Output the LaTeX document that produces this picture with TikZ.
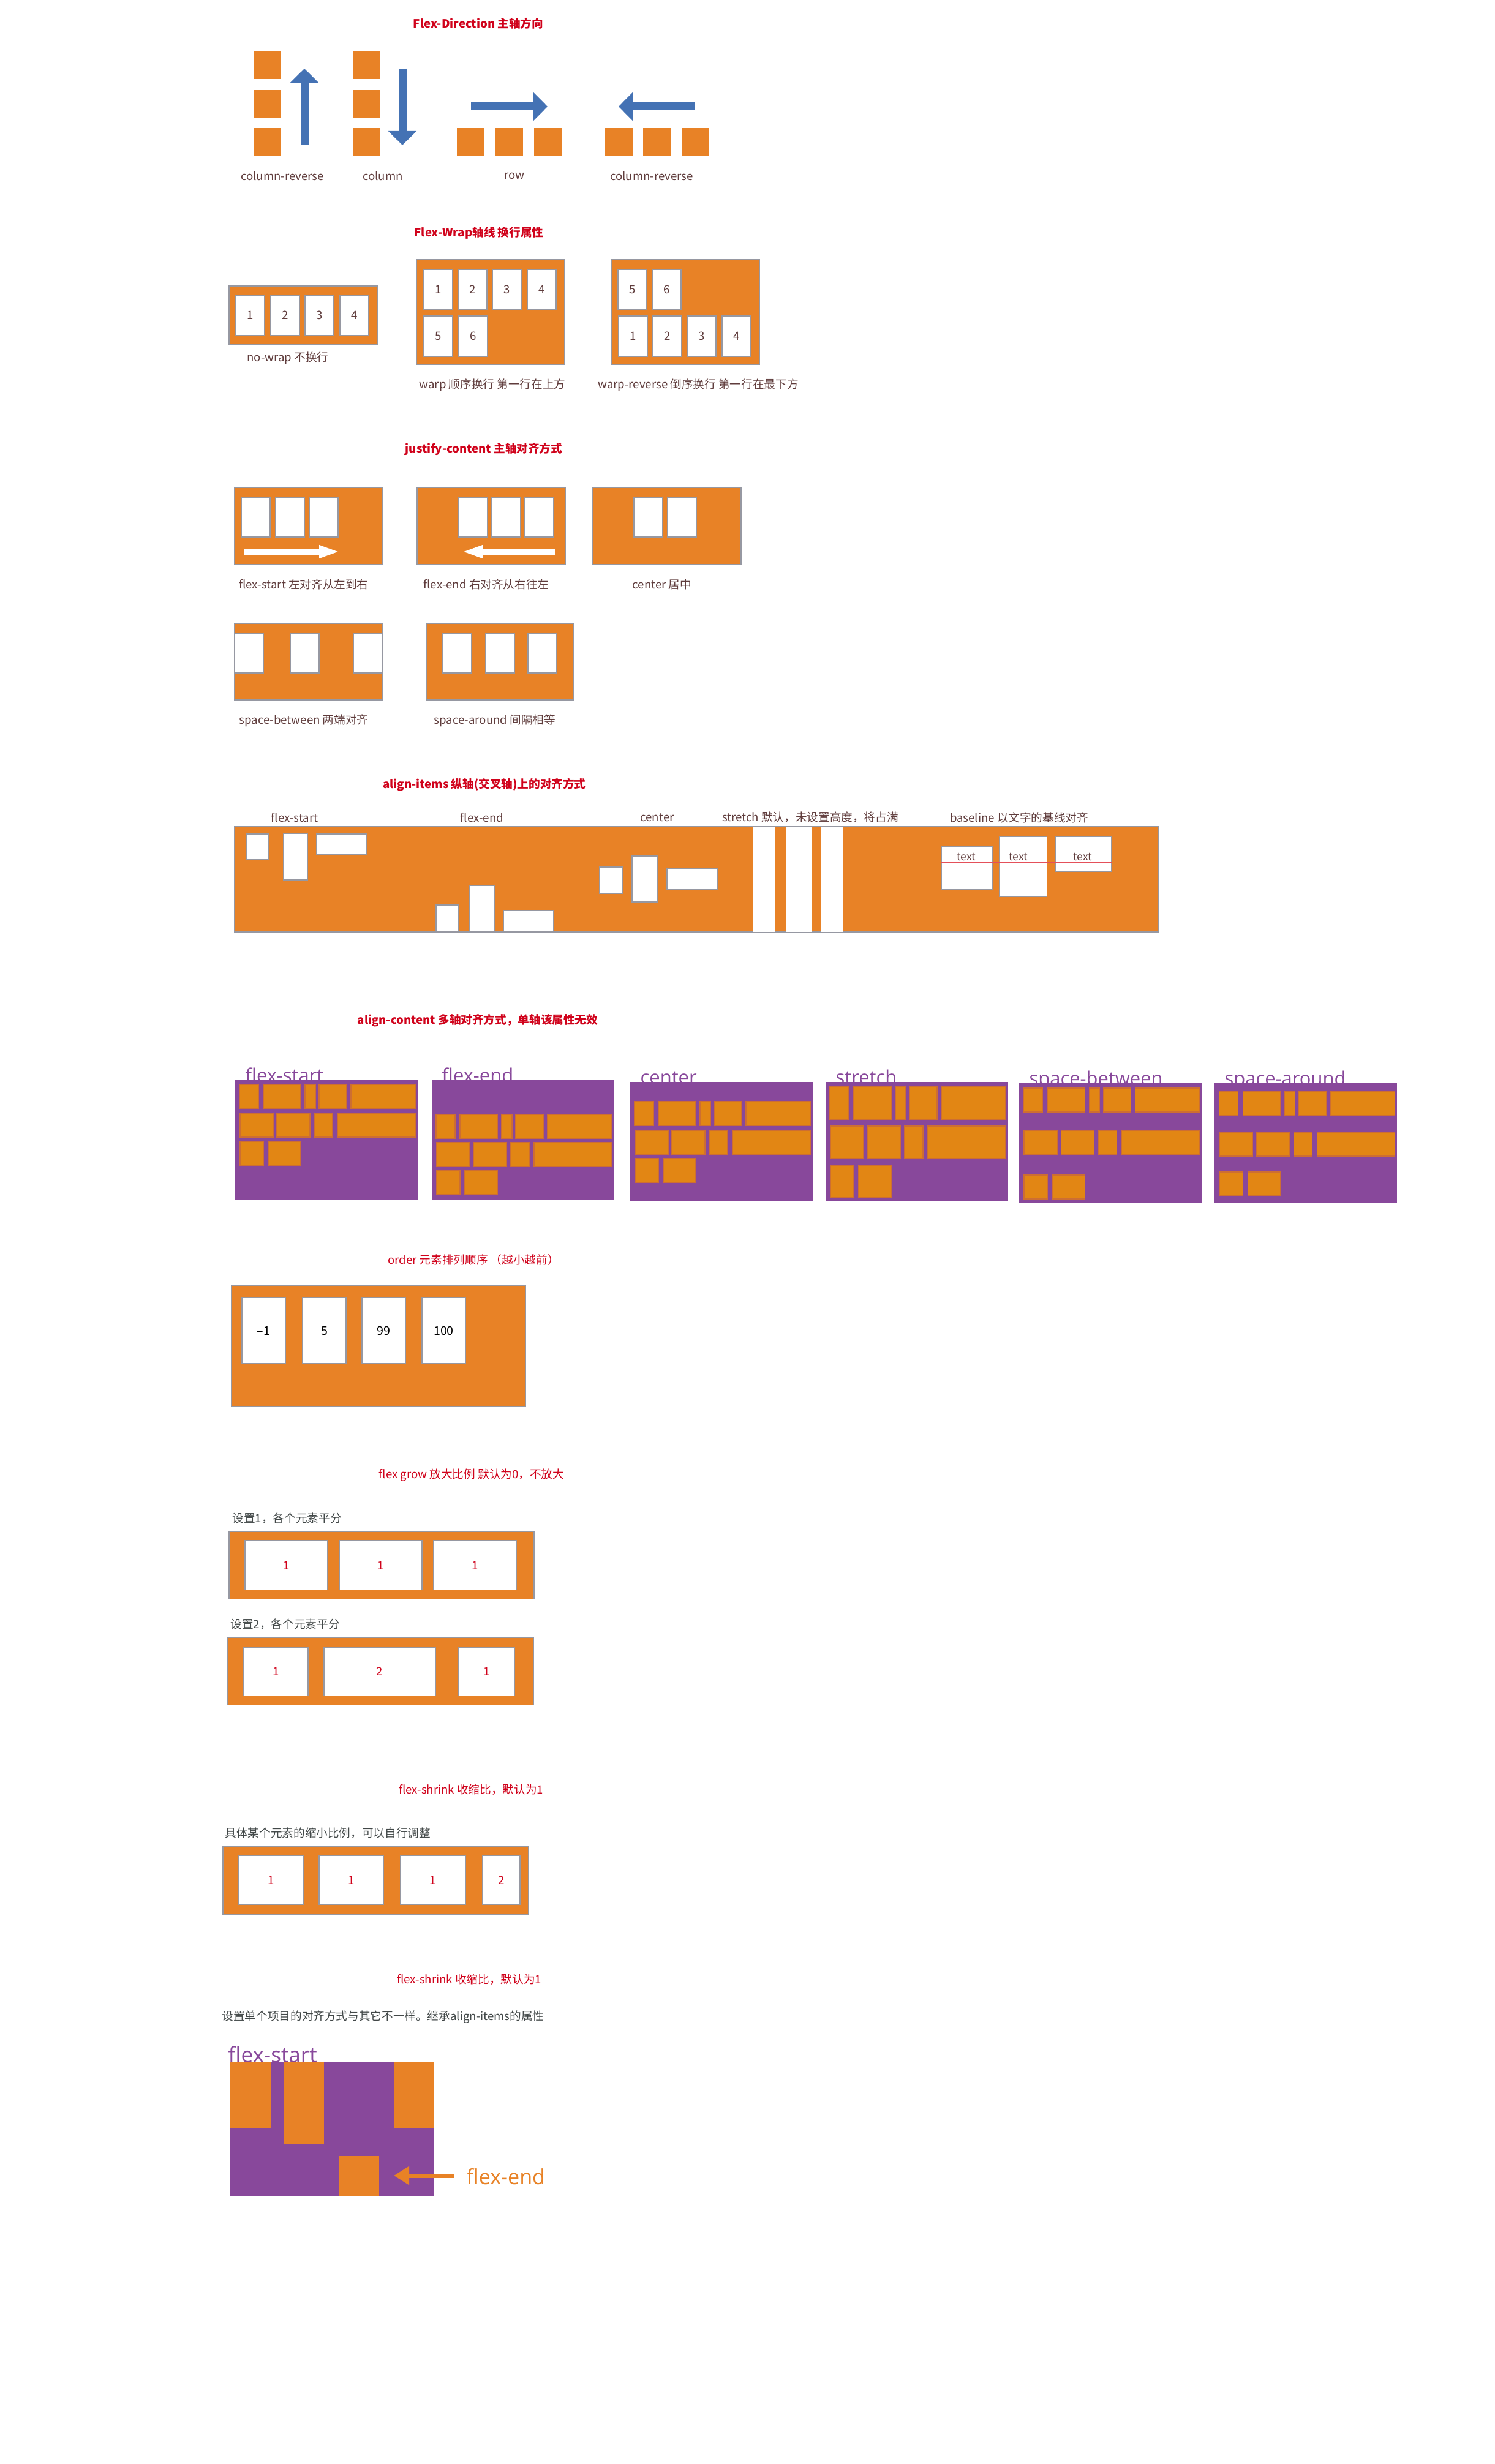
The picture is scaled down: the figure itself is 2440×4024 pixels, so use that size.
\documentclass[tikz,border=0pt]{standalone}
\usepackage{fontspec}
\setmainfont{Noto Sans CJK SC}
\newfontfamily\acfont{Open Sans}
\usetikzlibrary{positioning,arrows.meta,fit}

\definecolor{flexorange}{RGB}{232,130,38}
\definecolor{itemorange}{RGB}{226,134,20}
\definecolor{itemedge}{RGB}{205,110,50}
\definecolor{flexpurple}{RGB}{136,72,155}
\definecolor{titlered}{RGB}{208,2,27}
\definecolor{labelbrown}{RGB}{95,60,60}
\definecolor{notegray}{RGB}{66,72,72}
\definecolor{edgegray}{RGB}{150,152,162}
\definecolor{arrowblue}{RGB}{68,114,180}
\definecolor{baselinered}{RGB}{228,80,90}

\begin{document}
\begin{tikzpicture}[x=0.1mm,y=-0.1mm,>=Stealth,
  txt/.style={font=\fontsize{5.3}{6}\selectfont,inner sep=0},
  title/.style={inner sep=0,text=titlered,font=\fontsize{5.3}{6}\selectfont\bfseries},
  subtitle/.style={txt,text=titlered},
  lbl/.style={txt,text=labelbrown},
  note/.style={txt,text=notegray,anchor=west},
  box/.style={fill=flexorange,draw=edgegray,line width=0.3pt},
  blk/.style={fill=flexorange},
  item/.style={fill=white,draw=edgegray,line width=0.3pt,inner sep=0,txt,text=labelbrown,
    text height=1.4mm,text depth=0pt},
  witem/.style={item,minimum width=4.7mm,minimum height=6.6mm},
  itemr/.style={fill=white,draw=edgegray,line width=0.3pt},
  acbox/.style={fill=flexpurple},
  acitem/.style={fill=itemorange,draw=itemedge,line width=0.3pt},
  aclabel/.style={inner sep=0,text=flexpurple,font=\acfont\fontsize{8.8}{10}\selectfont},
  barrow/.style={arrowblue,line width=1.3mm,-{Triangle[length=2.3mm,width=4.5mm]}},
  warrow/.style={white,line width=1mm,-{Triangle[length=3.4mm,width=1.9mm]}},
  oarrow/.style={flexorange,line width=0.7mm,-{Triangle[length=2.5mm,width=2.9mm]}}]
\useasboundingbox[fill=white] (0,0) rectangle (2440,4024);

% flex-direction
\node[title] (t1) at (781,38) {Flex-Direction 主轴方向};
\foreach \y in {84,147,209} {
  \fill[blk] (414,\y) rectangle +(45,45);
  \fill[blk] (576,\y) rectangle +(45,45);
}
\foreach \x in {746,809,872,988,1050,1113} \fill[blk] (\x,209) rectangle +(45,45);
\coordinate (cr-s) at (497,237); \coordinate (cr-e) at (497,112);
\coordinate (c-s) at (657,112);  \coordinate (c-e) at (657,237);
\coordinate (r-s) at (769,174);  \coordinate (r-e) at (894,174);
\coordinate (rr-s) at (1135,174); \coordinate (rr-e) at (1010,174);
\draw[barrow] (cr-s) -- (cr-e);
\draw[barrow] (c-s) -- (c-e);
\draw[barrow] (r-s) -- (r-e);
\draw[barrow] (rr-s) -- (rr-e);
\node[lbl] (d1) at (461,287) {column-reverse};
\node[lbl] (d2) at (625,287) {column};
\node[lbl] (d3) at (840,287) {row};
\node[lbl] (d4) at (1064,287) {column-reverse};

% flex-wrap
\node[title] (t2) at (782,380) {Flex-Wrap轴线 换行属性};
\draw[box] (374,467) rectangle (617,563);
\foreach \n/\a in {1/385,2/442,3/498,4/555}
  \node[witem] (nw\n) at (\a+23.5,515) {\n};
\node[lbl] (nwl) at (470,585) {no-wrap 不换行};
\draw[box] (680,424) rectangle (922,595);
\foreach \n/\a/\t in {1/692/473,2/748/473,3/804/473,4/861/473,5/692/549,6/749/549}
  \node[witem] (w\n) at (\a+23.5,\t) {\n};
\node[lbl] (wl) at (804,629) {warp 顺序换行 第一行在上方};
\draw[box] (998,424) rectangle (1240,595);
\foreach \n/\a/\t in {5/1009/473,6/1065/473,1/1010/549,2/1066/549,3/1122/549,4/1179/549}
  \node[witem] (wr\n) at (\a+23.5,\t) {\n};
\node[lbl] (wrl) at (1140,629) {warp-reverse 倒序换行 第一行在最下方};

% justify-content
\node[title] (t3) at (790,733) {justify-content 主轴对齐方式};
\draw[box] (383,796) rectangle (625,922);
\draw[box] (681,796) rectangle (923,922);
\draw[box] (967,796) rectangle (1210,922);
\draw[box] (383,1018) rectangle (625,1143);
\draw[box] (696,1018) rectangle (937,1143);
\foreach \x in {394,450,505,749,803,857,1035,1090} \draw[itemr] (\x,812) rectangle +(47,65);
\foreach \x in {383,474,577,723,793,862} \draw[itemr] (\x,1034) rectangle +(47,65);
\coordinate (js-s) at (399,901); \coordinate (js-e) at (555,901);
\coordinate (je-s) at (907,901); \coordinate (je-e) at (754,901);
\draw[warrow] (js-s) -- (js-e);
\draw[warrow] (je-s) -- (je-e);
\node[lbl] (j1) at (496,954) {flex-start 左对齐从左到右};
\node[lbl] (j2) at (794,954) {flex-end 右对齐从右往左};
\node[lbl] (j3) at (1081,954) {center 居中};
\node[lbl] (j4) at (496,1177) {space-between 两端对齐};
\node[lbl] (j5) at (808,1177) {space-around 间隔相等};

% align-items
\node[title] (t4) at (791,1282) {align-items 纵轴(交叉轴)上的对齐方式};
\node[lbl] (a1) at (481,1335) {flex-start};
\node[lbl] (a2) at (787,1335) {flex-end};
\node[lbl] (a3) at (1073,1335) {center};
\node[lbl] (a4) at (1323,1335) {stretch 默认，未设置高度，将占满};
\node[lbl] (a5) at (1664,1335) {baseline 以文字的基线对齐};
\draw[box] (383,1350) rectangle (1891,1522);
\draw[itemr] (403,1362) rectangle (439,1404);
\draw[itemr] (463,1361) rectangle (502,1437);
\draw[itemr] (517,1362) rectangle (599,1396);
\draw[itemr] (712,1478) rectangle (748,1522);
\draw[itemr] (767,1446) rectangle (807,1522);
\draw[itemr] (822,1487) rectangle (904,1522);
\draw[itemr] (979,1416) rectangle (1016,1459);
\draw[itemr] (1032,1398) rectangle (1073,1473);
\draw[itemr] (1089,1418) rectangle (1172,1453);
\foreach \a/\b in {1230/1266,1284/1325,1340/1377} \fill[white] (\a,1350) rectangle (\b,1522);
\node[itemr,fit={(1537,1382)(1621,1453)},inner sep=0] (b1) {};
\node[itemr,fit={(1632,1366)(1709,1464)},inner sep=0] (b2) {};
\node[itemr,fit={(1723,1366)(1814,1423)},inner sep=0] (b3) {};
\draw[baselinered,line width=0.25mm] (b1.west |- 0,1408) -- (b3.east |- 0,1408);
\node[lbl,font=\fontsize{5}{6}\selectfont] (bt1) at (1578,1399) {text};
\node[lbl,font=\fontsize{5}{6}\selectfont] (bt2) at (1663,1399) {text};
\node[lbl,font=\fontsize{5}{6}\selectfont] (bt3) at (1768,1399) {text};

% align-content
\node[title] (t5) at (780,1667) {align-content 多轴对齐方式，单轴该属性无效};
\foreach \bx/\by/\lab/\ra/\rb/\rc/\h [count=\i] in
  {384/1764/flex-start/7/54/100/39, 705/1764/flex-end/56/102/148/39,
   1029/1767/center/32/79/125/39, 1348/1767/stretch/8/72/136/53,
   1664/1769/space-between/8/77/150/39, 1983/1769/space-around/14/80/145/39} {
  \node[aclabel,anchor=base west] (acl\i) at (\bx+16,\by+3) {\lab};
  \fill[acbox] (\bx,\by) rectangle +(298,195);
  \foreach \a/\b in {7/38,46/107,114/131,137/182,189/294}
    \filldraw[acitem] (\bx+\a,\by+\ra) rectangle (\bx+\b,\by+\ra+\h);
  \foreach \a/\b in {8/62,68/122,129/159,167/294}
    \filldraw[acitem] (\bx+\a,\by+\rb) rectangle (\bx+\b,\by+\rb+\h);
  \foreach \a/\b in {8/46,54/107}
    \filldraw[acitem] (\bx+\a,\by+\rc) rectangle (\bx+\b,\by+\rc+\h);
}

% order
\node[subtitle] (t6) at (773,2057) {order 元素排列顺序 （越小越前）};
\draw[box] (378,2099) rectangle (858,2297);
\foreach \n/\a [count=\i] in {–1/395,5/494,99/591,100/689}
  \node[item,minimum width=7.1mm,minimum height=10.8mm,text=black,font=\fontsize{5.6}{6}\selectfont]
    (o\i) at (\a+35.5,2173) {\n};

% flex grow
\node[subtitle] (t7) at (770,2409) {flex grow 放大比例 默认为0，不放大};
\node[note] (g1) at (379,2480) {设置1，各个元素平分};
\draw[box] (374,2501) rectangle (872,2611);
\foreach \c [count=\i] in {467.5,621.5,775.5}
  \node[item,minimum width=13.5mm,minimum height=8mm,text=titlered] (ga\i) at (\c,2556) {1};
\node[note] (g2) at (376,2653) {设置2，各个元素平分};
\draw[box] (372,2674) rectangle (871,2784);
\foreach \n/\c/\w [count=\i] in {1/450.5/10.5mm,2/620/18.2mm,1/794.5/9.1mm}
  \node[item,minimum width=\w,minimum height=7.9mm,text=titlered] (gb\i) at (\c,2729.5) {\n};

% flex-shrink
\node[subtitle] (t8) at (769,2923) {flex-shrink 收缩比，默认为1};
\node[note] (s1) at (367,2994) {具体某个元素的缩小比例，可以自行调整};
\draw[box] (364,3015) rectangle (863,3126);
\foreach \n/\c/\w [count=\i] in {1/442.5/10.5mm,1/573.5/10.5mm,1/707/10.6mm,2/818.5/6.1mm}
  \node[item,minimum width=\w,minimum height=8mm,text=titlered] (sa\i) at (\c,3070) {\n};

% align-self
\node[subtitle] (t9) at (766,3233) {flex-shrink 收缩比，默认为1};
\node[note] (s2) at (362,3294) {设置单个项目的对齐方式与其它不一样。继承align-items的属性};
\node[aclabel,anchor=base west,font=\acfont\fontsize{10}{12}\selectfont] (asl) at (372,3368) {flex-start};
\fill[acbox] (375,3368) rectangle (709,3587);
\fill[blk] (375,3368) rectangle (442,3476);
\fill[blk] (463,3368) rectangle (529,3501);
\fill[blk] (643,3368) rectangle (709,3476);
\fill[blk] (553,3521) rectangle (619,3587);
\coordinate (fe-s) at (741,3553); \coordinate (fe-e) at (643,3553);
\draw[oarrow] (fe-s) -- (fe-e);
\node[aclabel,anchor=base west,text=flexorange,font=\acfont\fontsize{9.7}{12}\selectfont] (fel) at (761,3567) {flex-end};
\end{tikzpicture}
\end{document}
